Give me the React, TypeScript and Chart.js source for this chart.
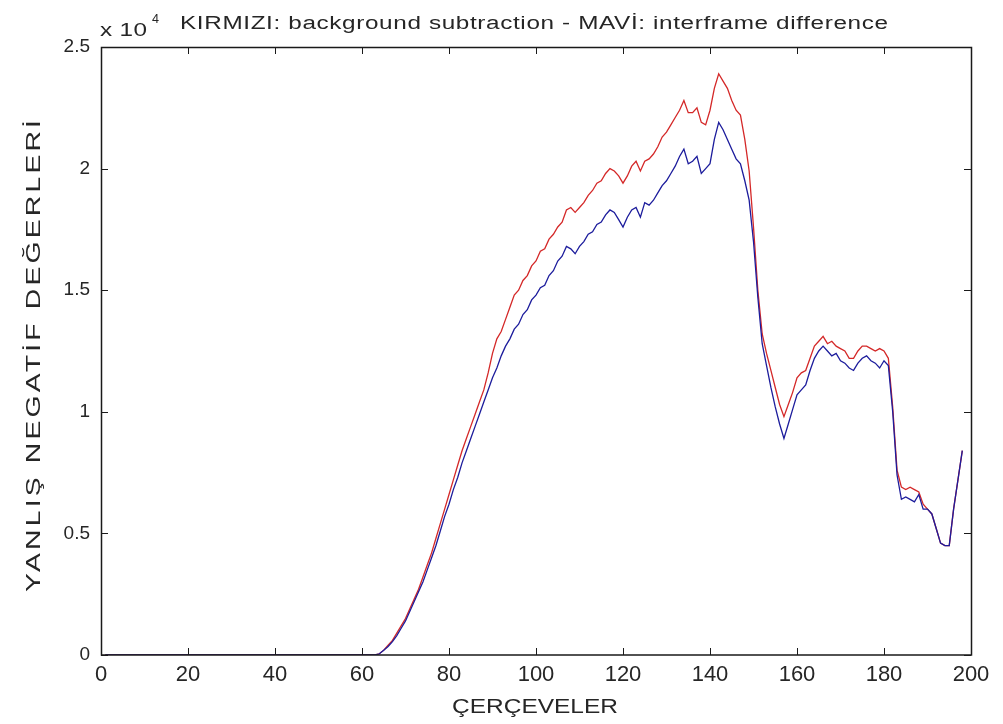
import React, { useEffect, useRef } from "react";
import { Chart, registerables } from "chart.js";

Chart.register(...registerables);

// Frame numbers (x values): 1..198
const FRAMES: number[] = Array.from({ length: 198 }, (_, i) => i + 1);

// Values in units of 10^4
const BLUE: number[] = [
  // 1-62
  0, 0, 0, 0, 0, 0, 0, 0, 0, 0, 0, 0, 0, 0, 0, 0, 0, 0, 0, 0,
  0, 0, 0, 0, 0, 0, 0, 0, 0, 0, 0, 0, 0, 0, 0, 0, 0, 0, 0, 0,
  0, 0, 0, 0, 0, 0, 0, 0, 0, 0, 0, 0, 0, 0, 0, 0, 0, 0, 0, 0,
  0, 0,
  // 63-72
  0, 0.005, 0.02, 0.035, 0.055, 0.08, 0.11, 0.14, 0.18, 0.22,
  // 73-82
  0.26, 0.30, 0.35, 0.40, 0.45, 0.51, 0.57, 0.62, 0.68, 0.73,
  // 83-92
  0.79, 0.84, 0.89, 0.94, 0.99, 1.04, 1.09, 1.14, 1.18, 1.23,
  // 93-102
  1.27, 1.30, 1.34, 1.36, 1.40, 1.42, 1.46, 1.48, 1.51, 1.52,
  // 103-112
  1.56, 1.58, 1.62, 1.64, 1.68, 1.67, 1.65, 1.68, 1.70, 1.73,
  // 113-122
  1.74, 1.77, 1.78, 1.81, 1.83, 1.82, 1.79, 1.76, 1.80, 1.83,
  // 123-132
  1.84, 1.80, 1.86, 1.85, 1.87, 1.90, 1.93, 1.95, 1.98, 2.01,
  // 133-142
  2.05, 2.08, 2.02, 2.03, 2.05, 1.98, 2.00, 2.02, 2.12, 2.19,
  // 143-152
  2.16, 2.12, 2.08, 2.04, 2.02, 1.95, 1.87, 1.70, 1.47, 1.28,
  // 153-162
  1.19, 1.10, 1.02, 0.95, 0.89, 0.95, 1.01, 1.07, 1.09, 1.11,
  // 163-172
  1.17, 1.22, 1.25, 1.27, 1.25, 1.23, 1.24, 1.21, 1.20, 1.18,
  // 173-182
  1.17, 1.20, 1.22, 1.23, 1.21, 1.20, 1.18, 1.21, 1.19, 1.00,
  // 183-192
  0.74, 0.64, 0.65, 0.64, 0.63, 0.66, 0.60, 0.60, 0.58, 0.52,
  // 193-198
  0.46, 0.45, 0.45, 0.60, 0.72, 0.84,
];

const RED: number[] = [
  // 1-62
  0, 0, 0, 0, 0, 0, 0, 0, 0, 0, 0, 0, 0, 0, 0, 0, 0, 0, 0, 0,
  0, 0, 0, 0, 0, 0, 0, 0, 0, 0, 0, 0, 0, 0, 0, 0, 0, 0, 0, 0,
  0, 0, 0, 0, 0, 0, 0, 0, 0, 0, 0, 0, 0, 0, 0, 0, 0, 0, 0, 0,
  0, 0,
  // 63-72
  0, 0.005, 0.02, 0.04, 0.06, 0.09, 0.12, 0.15, 0.19, 0.23,
  // 73-82
  0.27, 0.32, 0.37, 0.42, 0.48, 0.54, 0.60, 0.66, 0.72, 0.78,
  // 83-92
  0.84, 0.89, 0.94, 0.99, 1.04, 1.09, 1.16, 1.24, 1.30, 1.33,
  // 93-102
  1.38, 1.43, 1.48, 1.50, 1.54, 1.56, 1.60, 1.62, 1.66, 1.67,
  // 103-112
  1.71, 1.73, 1.76, 1.78, 1.83, 1.84, 1.82, 1.84, 1.86, 1.89,
  // 113-122
  1.91, 1.94, 1.95, 1.98, 2.00, 1.99, 1.97, 1.94, 1.97, 2.01,
  // 123-132
  2.03, 1.99, 2.03, 2.04, 2.06, 2.09, 2.13, 2.15, 2.18, 2.21,
  // 133-142
  2.24, 2.28, 2.23, 2.23, 2.25, 2.19, 2.18, 2.24, 2.33, 2.39,
  // 143-152
  2.36, 2.33, 2.28, 2.24, 2.22, 2.12, 1.99, 1.76, 1.50, 1.32,
  // 153-162
  1.24, 1.17, 1.10, 1.03, 0.98, 1.03, 1.08, 1.14, 1.16, 1.17,
  // 163-172
  1.22, 1.27, 1.29, 1.31, 1.28, 1.29, 1.27, 1.26, 1.25, 1.22,
  // 173-182
  1.22, 1.25, 1.27, 1.27, 1.26, 1.25, 1.26, 1.25, 1.22, 1.02,
  // 183-192
  0.76, 0.69, 0.68, 0.69, 0.68, 0.67, 0.62, 0.60, 0.58, 0.52,
  // 193-198
  0.46, 0.45, 0.45, 0.60, 0.72, 0.84,
];

const X_TICKS: number[] = [0, 20, 40, 60, 80, 100, 120, 140, 160, 180, 200];
const Y_TICKS: number[] = [0, 0.5, 1, 1.5, 2, 2.5];
const Y_TICK_LABELS: string[] = ["0", "0.5", "1", "1.5", "2", "2.5"];

const TITLE = "KIRMIZI: background subtraction - MAVİ: interframe difference";
const X_TITLE = "ÇERÇEVELER";
const Y_TITLE = "YANLIŞ NEGATİF DEĞERLERİ";
const EXP_BASE = "x 10";
const EXP_POWER = "4";

const TEXT_COLOR = "#262626";
const FONT = "'Liberation Sans', Arial, sans-serif";

// Draw text starting at (x, y) spread to a given width (stretch + letter spacing)
function fillSpread(
  ctx: CanvasRenderingContext2D,
  text: string,
  x: number,
  y: number,
  width: number,
  maxStretch = 1.35
) {
  const c: any = ctx;
  ctx.save();
  c.letterSpacing = "0px";
  const w = ctx.measureText(text).width;
  const s = Math.min(maxStretch, width / w);
  const rest = width - w * s;
  const n = Math.max(1, text.length - 1);
  const sp = rest / n / s;
  ctx.translate(x, y);
  ctx.scale(s, 1);
  ctx.textAlign = "left";
  if ("letterSpacing" in c) {
    c.letterSpacing = `${sp}px`;
    ctx.fillText(text, 0, 0);
  } else {
    let cx = 0;
    for (const ch of Array.from(text)) {
      ctx.fillText(ch, cx, 0);
      cx += ctx.measureText(ch).width + sp;
    }
  }
  ctx.restore();
}

const matlabFrame = {
  id: "matlabFrame",
  afterDraw(chart: any) {
    const { ctx, chartArea, scales } = chart;
    const { left, right, top, bottom } = chartArea;
    const xs = scales.x;
    const ys = scales.y;
    ctx.save();
    ctx.strokeStyle = "#1a1a1a";
    ctx.lineWidth = 1.5;
    ctx.beginPath();
    ctx.rect(Math.round(left) + 0.5, Math.round(top) + 0.5, Math.round(right - left), Math.round(bottom - top) - 0.5);
    ctx.stroke();
    ctx.lineWidth = 1;
    const tl = 7;
    ctx.beginPath();
    X_TICKS.forEach((v) => {
      const px = Math.round(xs.getPixelForValue(v)) + 0.5;
      ctx.moveTo(px, bottom);
      ctx.lineTo(px, bottom - tl);
      ctx.moveTo(px, top);
      ctx.lineTo(px, top + tl);
    });
    Y_TICKS.forEach((v) => {
      const py = Math.round(ys.getPixelForValue(v)) + 0.5;
      ctx.moveTo(left, py);
      ctx.lineTo(left + tl, py);
      ctx.moveTo(right, py);
      ctx.lineTo(right - tl, py);
    });
    ctx.stroke();

    // Texts
    ctx.fillStyle = TEXT_COLOR;
    ctx.textBaseline = "alphabetic";
    ctx.font = `18px ${FONT}`;
    fillSpread(ctx, TITLE, 180, 29, 708);

    ctx.font = `18px ${FONT}`;
    fillSpread(ctx, EXP_BASE, 100, 36, 47);
    ctx.font = `13px ${FONT}`;
    fillSpread(ctx, EXP_POWER, 152, 23, 7);

    ctx.font = `20px ${FONT}`;
    fillSpread(ctx, X_TITLE, 452, 713, 166);

    ctx.save();
    ctx.translate(40, 592);
    ctx.rotate(-Math.PI / 2);
    ctx.font = `21px ${FONT}`;
    fillSpread(ctx, Y_TITLE, 0, 0, 472);
    ctx.restore();

    ctx.restore();
  },
};

export default function App() {
  const canvasRef = useRef<HTMLCanvasElement | null>(null);

  useEffect(() => {
    const canvas = canvasRef.current;
    if (!canvas) return;
    const chart = new Chart(canvas, {
      type: "line",
      data: {
        datasets: [
          {
            label: "MAVİ: interframe difference",
            data: FRAMES.map((f, i) => ({ x: f, y: BLUE[i] })),
            borderColor: "#1c1c9c",
            borderWidth: 1.3,
            pointRadius: 0,
            fill: false,
            tension: 0,
          },
          {
            label: "KIRMIZI: background subtraction",
            data: FRAMES.map((f, i) => ({ x: f, y: RED[i] })),
            borderColor: "#d42828",
            borderWidth: 1.3,
            pointRadius: 0,
            fill: false,
            tension: 0,
          },
        ],
      },
      options: {
        responsive: false,
        animation: false,
        layout: { padding: { left: 0, right: 32, top: 47, bottom: 0 } },
        plugins: {
          legend: { display: false },
          tooltip: { enabled: false },
          title: { display: false },
        },
        scales: {
          x: {
            type: "linear",
            min: 0,
            max: 200,
            afterBuildTicks: (scale: any) => {
              scale.ticks = X_TICKS.map((v) => ({ value: v }));
            },
            afterFit: (scale: any) => {
              scale.height = 69;
            },
            grid: { display: false, drawTicks: false, tickLength: 0 },
            border: { display: false },
            ticks: {
              autoSkip: false,
              maxRotation: 0,
              padding: 7,
              color: TEXT_COLOR,
              font: { family: "'Liberation Sans Narrow', 'Liberation Sans', Arial, sans-serif", size: 22 },
              callback: (v: any) => String(v),
            },
          },
          y: {
            type: "linear",
            min: 0,
            max: 2.5,
            afterBuildTicks: (scale: any) => {
              scale.ticks = Y_TICKS.map((v) => ({ value: v }));
            },
            afterFit: (scale: any) => {
              scale.width = 101;
            },
            grid: { display: false, drawTicks: false, tickLength: 0 },
            border: { display: false },
            ticks: {
              autoSkip: false,
              padding: 11,
              color: TEXT_COLOR,
              font: { family: FONT, size: 19 },
              callback: (v: any) => {
                const idx = Y_TICKS.indexOf(Number(v));
                return idx >= 0 ? Y_TICK_LABELS[idx] : "";
              },
            },
          },
        },
      },
      plugins: [matlabFrame],
    });
    return () => chart.destroy();
  }, []);

  return (
    <div style={{ position: "absolute", left: 0, top: 0, width: 1003, height: 724, background: "#ffffff" }}>
      <canvas ref={canvasRef} width={1003} height={724} style={{ display: "block" }} />
    </div>
  );
}
